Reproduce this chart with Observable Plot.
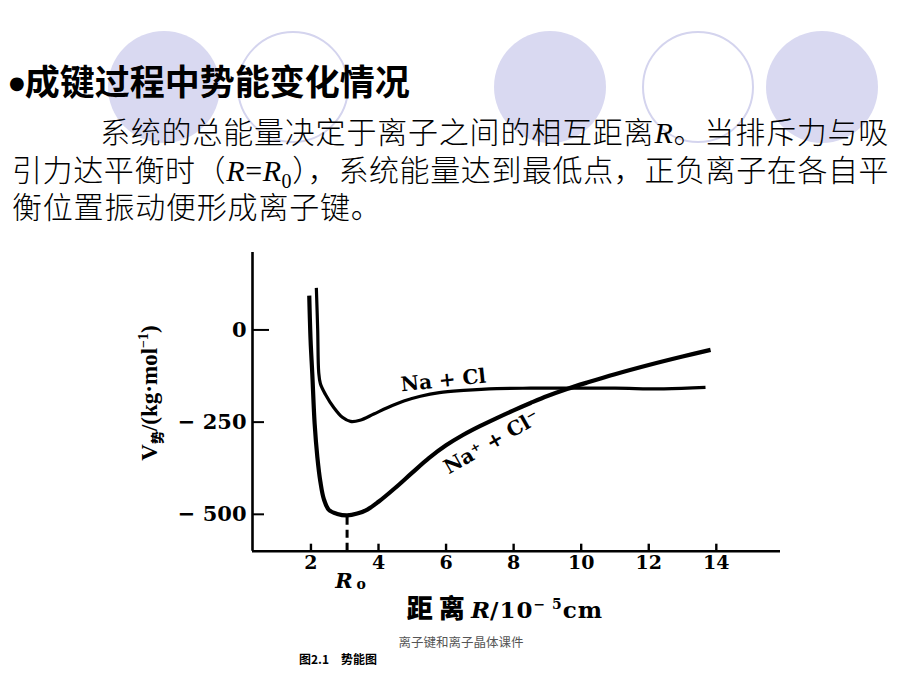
<!DOCTYPE html>
<html>
<head>
<meta charset="utf-8">
<script src="https://cdn.jsdelivr.net/npm/d3@7"></script>
<script src="https://cdn.jsdelivr.net/npm/@observablehq/plot@0.6"></script>
<style>
html, body { margin: 0; padding: 0; background: #fff; }
#page { position: relative; width: 920px; height: 690px; overflow: hidden; background: #fff; font-family: "Noto Sans CJK SC", sans-serif; color: #000; }
.circ { position: absolute; width: 112px; height: 112px; border-radius: 50%; box-sizing: border-box; }
.fill { background: #d9d9f1; }
.ring { border: 2px solid #d4d4ee; }
.t { position: absolute; white-space: nowrap; line-height: 1; }
.c { transform: translate(-50%, -50%); }
.serif-i { font-family: "Liberation Serif", serif; font-style: italic; }
.body { font-size: 30px; font-weight: 300; }
#chart { position: absolute; left: 0; top: 240px; }
</style>
</head>
<body>
<div id="page">
  <div class="circ fill" style="left:108px;top:31px"></div>
  <div class="circ ring" style="left:237px;top:31px"></div>
  <div class="circ fill" style="left:494px;top:31px"></div>
  <div class="circ ring" style="left:642px;top:31px"></div>
  <div class="circ fill" style="left:766px;top:31px"></div>

  <div class="t" style="left:9px;top:62px;font-size:35px;font-weight:700;"><span style="font-size:18px;vertical-align:6px;font-family:'DejaVu Sans'">●</span>成键过程中势能变化情况</div>

  <div class="t body" style="left:100px;top:115px;letter-spacing:0.8px;">系统的总能量决定于离子之间的相互距离<span class="serif-i">R</span>。当排斥力与吸</div>
  <div class="t body" style="left:12px;top:153px;letter-spacing:0.6px;">引力达平衡时（<span class="serif-i">R</span><span style="font-family:'Liberation Serif'">=</span><span class="serif-i">R</span><sub style="font-family:'Liberation Serif';font-size:20px;line-height:0">0</sub>），系统能量达到最低点，正负离子在各自平</div>
  <div class="t body" style="left:12px;top:190px;letter-spacing:0.8px;">衡位置振动便形成离子键。</div>

  <div id="chart"></div>

  <div class="t c" style="left:149px;top:393px;transform:translate(-50%,-50%) rotate(-90deg);font-family:'Liberation Serif',serif;font-weight:700;font-size:23px;">V<sub style="font-family:'Noto Sans CJK SC';font-size:13px;font-weight:900;line-height:0">势</sub>/(kg·mol<sup style="font-size:14px;line-height:0">−1</sup>)</div>

  <div class="t c" style="left:505px;top:607px;font-weight:700;font-size:23px;">
    <span style="font-family:'Noto Sans CJK SC';font-weight:900;letter-spacing:6px;font-size:26px">距离</span><span style="font-family:'DejaVu Serif';font-style:italic;font-weight:700">R</span><span style="font-family:'DejaVu Serif';font-weight:700;letter-spacing:1px">/10<sup style="font-size:14px;line-height:0">− 5</sup>cm</span>
  </div>

  <div class="t c" style="left:461px;top:642px;font-size:12.5px;color:#555;">离子键和离子晶体课件</div>
  <div class="t c" style="left:338px;top:659px;font-size:12px;font-weight:700;">图2.1　势能图</div>
</div>

<script>
// ---- data ----
const xTicks = [2, 4, 6, 8, 10, 12, 14];
const yTicks = [0, -250, -500];
const R0 = 3.07;

// Na + Cl (atoms) curve
const atomX = [2.16, 2.2, 2.23, 2.28, 2.43, 2.68, 2.93, 3.17, 3.45, 3.86, 4.26, 4.75, 5.24, 5.8, 6.52, 7.5, 8.5, 9.58, 11.0, 12.45, 13.68];
const atomY = [114, 0, -115, -146, -175, -211, -237, -248, -245, -228, -211, -193, -180, -170, -164, -159, -158, -158, -158, -160, -156];

// Na+ + Cl- (ions) curve
const ionX = [1.95, 1.99, 2.04, 2.11, 2.19, 2.28, 2.38, 2.53, 2.78, 3.07, 3.37, 3.67, 4.0, 4.5, 5.0, 5.5, 6.0, 6.5, 7.0, 7.5, 8.0, 8.5, 9.0, 9.58, 10.2, 11.0, 12.0, 13.0, 13.83];
const ionY = [93, -29, -119, -255, -345, -412, -458, -488, -499, -503, -498, -487, -466, -428, -387, -347, -313, -285, -261, -239, -218, -198, -179, -160, -142, -120, -95, -72, -54];

// curve labels
const labelText = ["Na + Cl", "Na⁺ + Cl⁻"];
const labelX = [5.92, 7.35];
const labelY = [-137, -305];

// ---- build ----
const atoms = atomX.map((x, i) => ({x, y: atomY[i]}));
const ions = ionX.map((x, i) => ({x, y: ionY[i]}));
const labels = labelText.map((text, i) => ({text, x: labelX[i], y: labelY[i]}));
const ionMin = d3.min(ionY);
const xMin = 0.27, xMax = 15.9, yMin = -600, yMax = 210;

const chart = Plot.plot({
  width: 920,
  height: 390,
  marginLeft: 252,
  marginRight: 140,
  marginTop: 12,
  marginBottom: 79.3,
  x: {domain: [xMin, xMax], label: null},
  y: {domain: [yMin, yMax], label: null},
  style: {fontFamily: "'DejaVu Serif', serif", background: "transparent", color: "#000", overflow: "visible"},
  marks: [
    Plot.ruleX([xMin], {strokeWidth: 2.6}),
    Plot.ruleY([yMin], {strokeWidth: 2.6}),
    Plot.axisX(xTicks, {tickSize: 7, dy: -7, fill: "none", strokeWidth: 2.4}),
    Plot.axisX(xTicks, {tickSize: 0, tickPadding: 4, fontSize: 19, fontWeight: "bold"}),
    Plot.axisY([0], {tickSize: 17, dx: 17, fill: "none", strokeWidth: 2}),
    Plot.axisY([-250, -500], {tickSize: 12, dx: 12, fill: "none", strokeWidth: 2}),
    Plot.axisY(yTicks, {tickSize: 0, tickPadding: 6, fontSize: 21, fontWeight: "bold",
      tickFormat: d => d < 0 ? "− " + (-d) : String(d)}),
    Plot.ruleX([R0], {y1: yMin, y2: ionMin, strokeWidth: 3, strokeDasharray: "8,5"}),
    Plot.line(atoms, {x: "x", y: "y", curve: "catmull-rom", strokeWidth: 3.2, strokeLinejoin: "round", strokeLinecap: "butt"}),
    Plot.line(ions, {x: "x", y: "y", curve: "catmull-rom", strokeWidth: 4.2, strokeLinejoin: "round", strokeLinecap: "butt"}),
    Plot.text(labels, {x: "x", y: "y", text: "text", fontSize: 20, fontWeight: "bold",
      rotate: d => d.text === "Na + Cl" ? -6 : -30}),
    Plot.text([R0], {x: d => d, y: yMin, text: () => "R", dx: -3, dy: 30, fontSize: 21, fontWeight: "bold", fontStyle: "italic"}),
    Plot.text([R0], {x: d => d, y: yMin, text: () => "o", dx: 14, dy: 33, fontSize: 14, fontWeight: "bold"})
  ]
});
document.getElementById("chart").appendChild(chart);
</script>
</body>
</html>
